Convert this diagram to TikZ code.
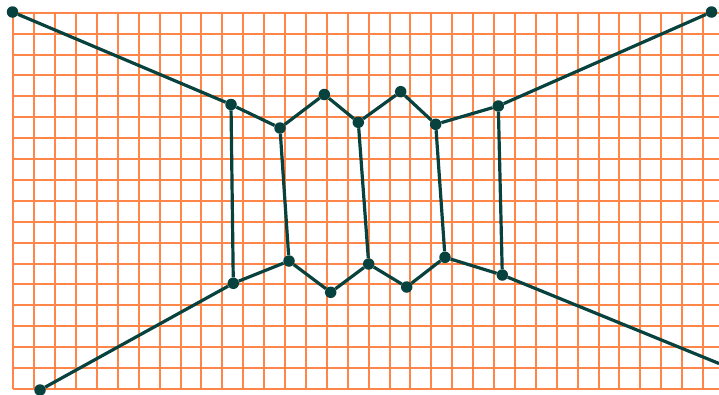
\documentclass[tikz,border=0pt]{standalone}
\definecolor{gridorange}{RGB}{255,133,72}
\definecolor{darkteal}{RGB}{8,66,62}
\begin{document}
\begin{tikzpicture}[x=1pt,y=-1pt,
  gridline/.style={draw=gridorange,line width=2pt},
  edge/.style={draw=darkteal,line width=3.2pt},
  dot/.style={circle,fill=darkteal,inner sep=0pt,minimum size=11.5pt}]
\path[use as bounding box] (0,0) rectangle (719,394);
\clip (0,0) rectangle (719,394);
\fill[white] (0,0) rectangle (719,394);
\foreach \i in {0,...,33} \draw[gridline] ({13.3+20.9*\i},12.7) -- ({13.3+20.9*\i},388.9);
\foreach \j in {0,...,18} \draw[gridline] (13.3,{12.7+20.9*\j}) -- (719,{12.7+20.9*\j});
% outer nodes
\node[dot] (A) at (12.5,12) {};
\node[dot] (B) at (711.5,12) {};
\node[dot] (C) at (40,390) {};
\coordinate (D) at (719,363.5);
% top row
\node[dot] (P1) at (231,104.5) {};
\node[dot] (P2) at (280,128) {};
\node[dot] (P3) at (324.3,94.5) {};
\node[dot] (P4) at (358.3,122.3) {};
\node[dot] (P5) at (400.7,91.7) {};
\node[dot] (P6) at (435.7,124.3) {};
\node[dot] (P7) at (498.3,106) {};
% bottom row
\node[dot] (Q1) at (233.3,283.3) {};
\node[dot] (Q2) at (289,261) {};
\node[dot] (Q3) at (330.7,292.3) {};
\node[dot] (Q4) at (368.7,264) {};
\node[dot] (Q5) at (406.7,287) {};
\node[dot] (Q6) at (445,257.3) {};
\node[dot] (Q7) at (502.3,275) {};
% edges
\draw[edge] (A) -- (P1) -- (P2) -- (P3) -- (P4) -- (P5) -- (P6) -- (P7) -- (B);
\draw[edge] (C) -- (Q1) -- (Q2) -- (Q3) -- (Q4) -- (Q5) -- (Q6) -- (Q7) -- (D);
\draw[edge] (P1) -- (Q1);
\draw[edge] (P2) -- (Q2);
\draw[edge] (P4) -- (Q4);
\draw[edge] (P6) -- (Q6);
\draw[edge] (P7) -- (Q7);
\end{tikzpicture}
\end{document}
